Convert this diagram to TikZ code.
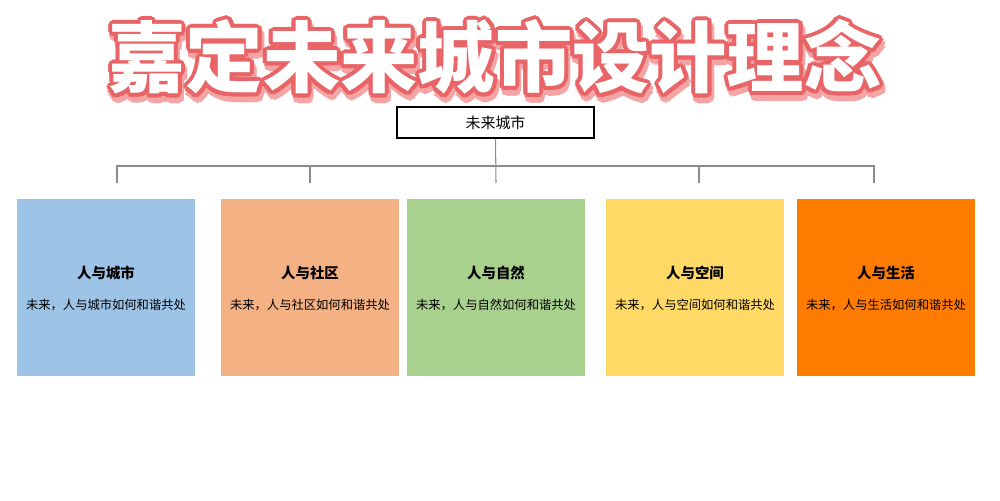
\documentclass[tikz,border=0pt]{standalone}
\usepackage{fontspec}
\usepackage{tikz}
\usetikzlibrary{positioning, calc}
\newfontfamily\cjk{Noto Sans CJK SC}
\newfontfamily\titlefont{Noto Sans CJK SC Black}
\definecolor{boxblue}{HTML}{9DC3E6}
\definecolor{boxorange}{HTML}{F4B183}
\definecolor{boxgreen}{HTML}{A9D18E}
\definecolor{boxyellow}{HTML}{FFD966}
\definecolor{boxdeep}{HTML}{FF7C00}
\definecolor{titlered}{HTML}{E96466}
\definecolor{titlepink}{HTML}{F4A4A4}
\definecolor{linegray}{HTML}{8C8C8C}
\newcommand{\titlestr}{嘉定未来城市设计理念}

\begin{document}
\begin{tikzpicture}[
    x=0.02cm, y=-0.02cm,
    node distance=0.5cm,
    titletext/.style={inner sep=0pt, font=\titlefont\fontsize{44pt}{44pt}\selectfont},
    topbox/.style={rectangle, draw=black, line width=1.2pt, fill=white, minimum width=3.94cm, minimum height=0.62cm, align=center, font=\cjk\fontsize{8.5pt}{10pt}\selectfont},
    themebox/.style={rectangle, minimum width=3.56cm, minimum height=3.54cm, inner sep=0pt},
    head/.style={font=\cjk\bfseries\fontsize{8.2pt}{10pt}\selectfont, inner sep=0pt},
    sub/.style={font=\cjk\fontsize{7pt}{9pt}\selectfont, inner sep=0pt},
    conn/.style={draw=linegray, line width=0.6pt}
]
    \useasboundingbox (0,0) rectangle (1000,500);

    % Title: shadow, outline, face
    \foreach \a in {0,30,...,330}
        \node[titletext, titlepink] at ($(497,62)+(\a:4.5)$) {\titlestr};
    \foreach \a in {0,30,...,330}
        \node[titletext, titlered] at ($(495,57)+(\a:4)$) {\titlestr};
    \node[titletext, white] (title) at (495,57) {\titlestr};

    % Root
    \node[topbox] (city) at (495.5,122.5) {未来城市};

    % Themes
    \foreach \n/\x/\c/\t in {b1/106/boxblue/城市, b2/310/boxorange/社区, b3/496/boxgreen/自然, b4/695/boxyellow/空间, b5/886/boxdeep/生活} {
        \node[themebox, fill=\c] (\n) at (\x,287.5) {};
        \node[head] (\n-head) at ($(\n.center)+(0,-14.5)$) {人与\t};
        \node[sub] (\n-sub) at ($(\n.center)+(0,17.5)$) {未来，人与\t 如何和谐共处};
    }

    % Connectors
    \coordinate (bar) at (496,166);
    \coordinate (d1) at (117,183);
    \coordinate (d2) at (310,183);
    \coordinate (d3) at (496,183);
    \coordinate (d4) at (699,183);
    \coordinate (d5) at (874,183);
    \draw[conn] (d1) |- (bar) -| (d5);
    \foreach \d in {d2,d4}
        \draw[conn] (\d) -- (\d |- bar);
    \draw[conn] (city.south) -- (d3);
\end{tikzpicture}
\end{document}
